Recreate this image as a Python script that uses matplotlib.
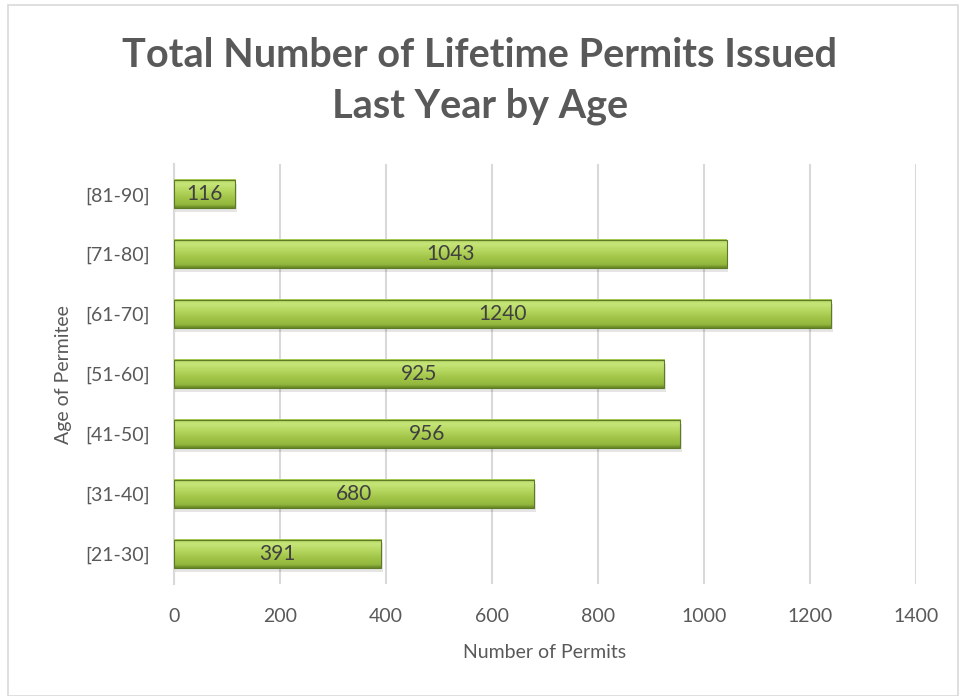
import matplotlib.pyplot as plt
import numpy as np
from matplotlib.patches import Rectangle

ages = ["[21-30]", "[31-40]", "[41-50]", "[51-60]", "[61-70]", "[71-80]", "[81-90]"]
permits = [391, 680, 956, 925, 1240, 1043, 116]

plt.rcParams['font.family'] = ['Lato', 'DejaVu Sans']
txt = '#595959'

fig = plt.figure(figsize=(9.6, 6.96), dpi=100)
fig.patches.append(Rectangle((0.008, 0.0), 0.99, 0.993, transform=fig.transFigure,
                             fill=False, edgecolor='#d9d9d9', lw=1.2))
ax = fig.add_axes([0.181, 0.161, 0.773, 0.603])

h = 0.47
# vertical gradient for the bevelled green bars
grad = np.array([0.0, 0.12, 0.35, 0.6, 0.85, 1.0])
cols = np.array([[0.40, 0.52, 0.15], [0.58, 0.72, 0.24], [0.63, 0.77, 0.28],
                 [0.71, 0.84, 0.37], [0.78, 0.90, 0.48], [0.66, 0.80, 0.33]])
yy = np.linspace(0, 1, 64)
img = np.stack([np.interp(yy, grad, cols[:, k]) for k in range(3)], axis=-1)[:, None, :]

for i, v in enumerate(permits):
    # soft shadow
    ax.barh(i - 0.06, v + 2, height=h, left=1, color='#000000', alpha=0.10, zorder=2)
    ax.imshow(img, extent=[0, v, i - h / 2, i + h / 2], origin='lower',
              aspect='auto', zorder=3, interpolation='bilinear')
    ax.barh(i, v, height=h, color='none', edgecolor='#5f7a25', lw=0.8, zorder=4)
    ax.text(v / 2, i, str(v), ha='center', va='center', fontsize=15, color='#404040', zorder=5)

ax.set_xlim(0, 1400)
ax.set_ylim(-0.5, 6.5)
ax.set_xticks(range(0, 1401, 200))
ax.set_yticks(range(len(ages)))
ax.set_yticklabels(ages)
ax.grid(axis='x', color='#d9d9d9', lw=1.5, zorder=0)
ax.set_axisbelow(True)
for s in ['top', 'right', 'bottom']:
    ax.spines[s].set_visible(False)
ax.spines['left'].set_color('#d9d9d9')
ax.spines['left'].set_linewidth(1.5)
ax.tick_params(length=0, labelsize=14, colors=txt)
ax.tick_params(axis='y', pad=17)
ax.tick_params(axis='x', pad=17)
ax.set_xlabel("Number of Permits", fontsize=14, color=txt, labelpad=14)
ax.set_ylabel("Age of Permitee", fontsize=14, color=txt, labelpad=10)

fig.text(0.5, 0.884, "Total Number of Lifetime Permits Issued\nLast Year by Age",
         ha='center', va='center', fontsize=28.5, fontweight='bold', color=txt, linespacing=1.45)

fig.savefig("out.png", dpi=100)
